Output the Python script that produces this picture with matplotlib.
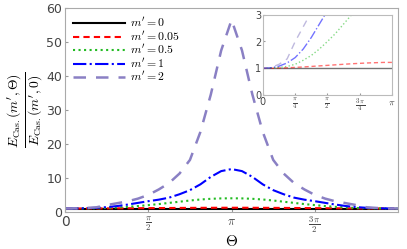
import numpy as np
import matplotlib.pyplot as plt

plt.rcParams['mathtext.fontset'] = 'cm'

# Theta grid: k*pi/16, k = 0..32
theta = np.arange(33) * np.pi / 16

m0 = [1.0] * 33
m005 = [1.0, 1.0, 1.01, 1.02, 1.035, 1.05, 1.07, 1.09, 1.11, 1.13, 1.15, 1.17, 1.185, 1.2, 1.21, 1.22, 1.22,
        1.22, 1.21, 1.2, 1.185, 1.17, 1.15, 1.13, 1.11, 1.09, 1.07, 1.05, 1.035, 1.02, 1.01, 1.0, 1.0]
m05 = [1.0, 1.01, 1.03, 1.07, 1.15, 1.3, 1.48, 1.72, 2.0, 2.3, 2.65, 3.0, 3.35, 3.65, 3.85, 3.97, 4.0,
       3.97, 3.85, 3.65, 3.35, 3.0, 2.65, 2.3, 2.0, 1.72, 1.48, 1.3, 1.15, 1.07, 1.03, 1.01, 1.0]
m1 = [1.0, 1.02, 1.08, 1.2, 1.4, 1.72, 2.15, 2.65, 3.15, 3.6, 4.2, 5.2, 6.4, 8.1, 10.3, 12.0, 12.6,
      12.0, 10.3, 8.1, 6.4, 5.2, 4.2, 3.6, 3.15, 2.65, 2.15, 1.72, 1.4, 1.2, 1.08, 1.02, 1.0]
m2 = [1.0, 1.03, 1.15, 1.35, 2.0, 2.55, 3.1, 3.9, 5.0, 6.6, 8.5, 11.3, 15.3, 23.5, 34.5, 47.5, 56.5,
      47.5, 34.5, 23.5, 15.3, 11.3, 8.5, 6.6, 5.0, 3.9, 3.1, 2.55, 2.0, 1.35, 1.15, 1.03, 1.0]

series = [
    (m0, r"$m'=0$", 'black', '-', 1.5),
    (m005, r"$m'=0.05$", 'red', (0, (3, 2)), 1.5),
    (m05, r"$m'=0.5$", '#22bb22', ':', 1.5),
    (m1, r"$m'=1$", 'blue', '-.', 1.5),
    (m2, r"$m'=2$", '#8a80c4', (0, (5, 4)), 1.8),
]

fig = plt.figure(figsize=(4.07, 2.49), dpi=100)
ax = fig.add_axes([0.160, 0.149, 0.818, 0.819])

for y, lab, c, ls, lw in series:
    ax.plot(theta, y, color=c, ls=ls, lw=lw, label=lab)

ax.set_xlim(0, 2 * np.pi)
ax.set_ylim(0, 60)
ax.set_xticks([0, np.pi / 2, np.pi, 3 * np.pi / 2])
ax.set_xticklabels(['0', r'$\frac{\pi}{2}$', r'$\pi$', r'$\frac{3\,\pi}{2}$'])
ax.set_yticks([0, 10, 20, 30, 40, 50, 60])
ax.tick_params(direction='in', length=2, colors='#999999', labelcolor='#444444', labelsize=9, pad=2)
ax.tick_params(axis='x', labelsize=9)
ax.get_xticklabels()[0].set_fontsize(10)
for s in ax.spines.values():
    s.set_color('#aaaaaa')
ax.set_xlabel(r'$\Theta$', fontsize=11, labelpad=-1)
ax.set_ylabel(r'$\frac{E_{\mathrm{Cas.}}(m^{\prime},\Theta)}{E_{\mathrm{Cas.}}(m^{\prime},0)}$',
              fontsize=14, labelpad=1)
ax.legend(loc='upper left', frameon=False, fontsize=8.5, handlelength=4.4,
          labelspacing=-0.05, borderaxespad=0.3, handletextpad=0.4)

# inset
ins = fig.add_axes([0.646, 0.618, 0.317, 0.323])
for y, lab, c, ls, lw in series:
    ins.plot(theta, y, color=c, ls=ls, lw=1.0, alpha=0.55)
ins.set_xlim(0, np.pi)
ins.set_ylim(0, 3)
ins.set_xticks([0, np.pi / 4, np.pi / 2, 3 * np.pi / 4, np.pi])
ins.set_xticklabels(['0', r'$\frac{\pi}{4}$', r'$\frac{\pi}{2}$', r'$\frac{3\,\pi}{4}$', r'$\pi$'])
ins.set_yticks([0, 1, 2, 3])
ins.tick_params(direction='in', length=1.5, colors='#999999', labelcolor='#444444', labelsize=7, pad=1)
for s in ins.spines.values():
    s.set_color('#bbbbbb')

fig.savefig('out.png', dpi=100)
